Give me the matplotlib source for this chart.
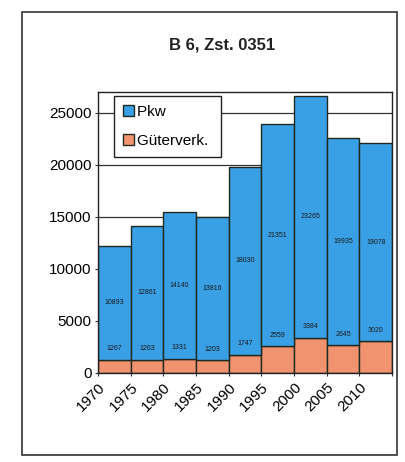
import matplotlib
matplotlib.use("Agg")
import matplotlib.pyplot as plt
import matplotlib.patches as mpatches
import numpy as np

plt.rcParams['font.family'] = ['Liberation Sans', 'DejaVu Sans']

years = ['1970', '1975', '1980', '1985', '1990', '1995', '2000', '2005', '2010']
gueterverk = [1267, 1263, 1331, 1203, 1747, 2559, 3384, 2645, 3020]
pkw = [10893, 12861, 14140, 13816, 18030, 21351, 23265, 19935, 19078]

blue = '#3aa0e6'
salmon = '#f2936f'
edge = '#1f2a1f'

fig = plt.figure(figsize=(4.06, 4.62), dpi=100)
ax = fig.add_axes([0.241, 0.193, 0.725, 0.608])

x = np.arange(len(years))
ax.bar(x, gueterverk, width=1.0, color=salmon, edgecolor=edge, linewidth=1.0,
       label='Güterverk.', zorder=2)
ax.bar(x, pkw, width=1.0, bottom=gueterverk, color=blue, edgecolor=edge,
       linewidth=1.0, label='Pkw', zorder=2)

# value labels
for xi, g, p in zip(x, gueterverk, pkw):
    ax.annotate(str(g), (xi, g), xytext=(0, 8), textcoords='offset points',
                ha='center', va='center', fontsize=5, color='#1a1a1a', zorder=3)
    ax.text(xi, g + p / 2, str(p), ha='center', va='center', fontsize=5,
            color='#1a1a1a', zorder=3)

ax.set_xlim(-0.5, len(years) - 0.5)
ax.set_ylim(0, 27000)
ax.set_yticks(np.arange(0, 25001, 5000))
ax.set_yticklabels([str(v) for v in range(0, 25001, 5000)], fontsize=11)
ax.set_xticks(np.arange(len(years) + 1) - 0.5)
ax.set_xticklabels(years + [''], fontsize=11, rotation=45, ha='right',
                   rotation_mode='anchor')
ax.tick_params(axis='both', direction='inout', length=5, width=0.8, color='#333333')
ax.tick_params(axis='y', pad=2)
ax.tick_params(axis='x', pad=3)

ax.grid(axis='y', color='#333333', linewidth=0.9, zorder=0)
ax.set_axisbelow(True)
for side in ['top', 'right', 'left', 'bottom']:
    ax.spines[side].set_color('#222222')
    ax.spines[side].set_linewidth(1.0)

handles, labels = ax.get_legend_handles_labels()
leg = ax.legend(handles[::-1], [lab + ' ' for lab in labels[::-1]],
                loc='upper left', bbox_to_anchor=(0.054, 0.986),
                borderaxespad=0, fontsize=11, frameon=True, fancybox=False,
                edgecolor='#222222', framealpha=1, handlelength=0.7,
                handleheight=0.7, handletextpad=0.2, labelspacing=0.95,
                borderpad=0.6)
leg.get_frame().set_linewidth(1.0)
leg.set_zorder(5)

fig.text(0.547, 0.903, 'B 6, Zst. 0351', ha='center', va='center',
         fontsize=12, fontweight='bold', color='#222222')

frame = mpatches.Rectangle((22 / 406, 1 - 455 / 462), 375 / 406, 443 / 462,
                           transform=fig.transFigure, fill=False,
                           edgecolor='#333333', linewidth=1.2)
fig.patches.append(frame)

fig.savefig('out.png', dpi=100, facecolor='white')
